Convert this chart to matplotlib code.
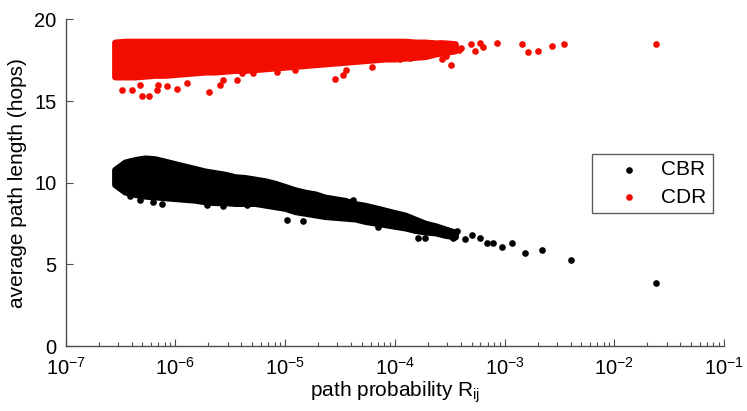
import matplotlib
matplotlib.use("Agg")
import matplotlib.pyplot as plt
from matplotlib import font_manager
import numpy as np

# ---------------- data ----------------
# column positions (path probability) for the dense parts of both clouds
core_x = [2.81e-7, 3.47e-7, 4.28e-7, 5.28e-7, 6.51e-7, 8.04e-7, 9.91e-7, 1.22e-6,
          1.51e-6, 1.86e-6, 2.30e-6, 2.83e-6, 3.49e-6, 4.31e-6, 5.32e-6, 6.56e-6,
          8.09e-6, 9.98e-6, 1.23e-5, 1.52e-5, 1.87e-5, 2.31e-5, 2.85e-5, 3.52e-5,
          4.34e-5, 5.35e-5, 6.61e-5, 8.15e-5, 1.00e-4, 1.24e-4, 1.53e-4, 1.89e-4,
          2.33e-4, 2.87e-4, 3.54e-4]

# CBR dense cloud: upper / lower edge of dot centres per column
cbr_core_hi = [10.8, 11.25, 11.4, 11.5, 11.45, 11.3, 11.15, 11.0, 10.85, 10.7, 10.6, 10.5,
               10.35, 10.3, 10.2, 10.1, 9.95, 9.75, 9.55, 9.4, 9.3, 9.1, 9.0, 8.9,
               8.7, 8.6, 8.45, 8.3, 8.15, 8.0, 7.75, 7.5, 7.35, 7.15, 6.95]
cbr_core_lo = [9.9, 9.45, 9.3, 9.2, 9.15, 9.1, 9.05, 9.0, 8.95, 8.85, 8.8, 8.8,
               8.75, 8.75, 8.75, 8.65, 8.55, 8.45, 8.25, 8.15, 8.05, 7.95, 7.9, 7.85,
               7.8, 7.65, 7.55, 7.45, 7.35, 7.25, 7.1, 7.0, 6.95, 6.8, 6.7]

# CDR dense cloud
cdr_core_hi = [18.6, 18.65, 18.65, 18.65, 18.65, 18.65, 18.65, 18.65, 18.65, 18.65, 18.65, 18.65,
               18.65, 18.65, 18.65, 18.65, 18.65, 18.65, 18.65, 18.65, 18.65, 18.65, 18.65, 18.65,
               18.65, 18.65, 18.65, 18.65, 18.65, 18.65, 18.6, 18.6, 18.55, 18.55, 18.5]
cdr_core_lo = [16.5, 16.5, 16.5, 16.55, 16.6, 16.6, 16.65, 16.7, 16.75, 16.8, 16.8, 16.85,
               16.9, 16.9, 16.95, 17.0, 17.05, 17.1, 17.15, 17.2, 17.25, 17.3, 17.35, 17.4,
               17.45, 17.5, 17.55, 17.6, 17.6, 17.65, 17.7, 17.75, 17.9, 18.0, 18.1]

# individual, separately visible CBR points
cbr_x = [3.86e-7, 4.76e-7, 6.29e-7, 7.50e-7, 1.93e-6, 2.72e-6, 4.47e-6, 1.03e-5,
         1.45e-5, 4.19e-5, 7.08e-5, 1.64e-4, 1.88e-4, 3.41e-4, 3.66e-4, 4.37e-4,
         5.02e-4, 5.98e-4, 6.86e-4, 7.91e-4, 9.44e-4, 1.16e-3, 1.52e-3, 2.21e-3,
         4.04e-3, 2.40e-2]
cbr_y = [9.16, 8.96, 8.82, 8.69, 8.65, 8.55, 8.65, 7.73,
         7.63, 8.96, 7.26, 6.64, 6.64, 6.6, 7.06, 6.56,
         6.77, 6.64, 6.3, 6.3, 6.09, 6.32, 5.69, 5.89,
         5.28, 3.88]

# individual, separately visible CDR points
cdr_x = [3.24e-7, 4.00e-7, 4.93e-7, 5.78e-7, 4.76e-7, 6.76e-7, 6.98e-7, 8.33e-7,
         1.03e-6, 1.27e-6, 2.04e-6, 2.55e-6, 2.73e-6, 3.62e-6, 4.02e-6, 5.13e-6,
         8.38e-6, 1.23e-5, 2.85e-5, 3.40e-5, 3.59e-5, 6.15e-5, 1.12e-4, 1.38e-4,
         1.65e-4, 2.17e-4, 2.40e-4, 2.58e-4, 2.68e-4, 2.91e-4, 3.25e-4, 3.87e-4,
         4.01e-4, 4.92e-4, 5.38e-4, 5.98e-4, 6.41e-4, 8.45e-4, 1.44e-3, 1.63e-3,
         2.03e-3, 2.71e-3, 3.47e-3, 2.40e-2]
cdr_y = [15.7, 15.7, 15.34, 15.3, 16.0, 15.66, 16.0, 15.9,
         15.75, 16.1, 15.54, 16.0, 16.3, 16.3, 16.7, 16.7,
         16.8, 16.9, 16.36, 16.6, 16.9, 17.1, 17.55, 17.65,
         17.85, 18.57, 18.36, 18.57, 17.59, 17.79, 17.22, 18.16,
         18.26, 18.47, 18.06, 18.57, 18.3, 18.55, 18.5, 18.0,
         18.06, 18.36, 18.5, 18.47]

series_labels = ["CBR", "CDR"]
x_ticks = [1e-7, 1e-6, 1e-5, 1e-4, 1e-3, 1e-2, 1e-1]
y_ticks = [0, 5, 10, 15, 20]

# ---------------- style ----------------
names = {f.name for f in font_manager.fontManager.ttflist}
if "Liberation Sans Narrow" in names:
    fam = "Liberation Sans Narrow"
    fs_tick, fs_lab = 16, 16.5
else:
    fam = "Liberation Sans"
    fs_tick, fs_lab = 14.5, 15

plt.rcParams["font.family"] = [fam, "DejaVu Sans"]
plt.rcParams["mathtext.fontset"] = "custom"
plt.rcParams["mathtext.rm"] = fam
plt.rcParams["mathtext.it"] = fam
plt.rcParams["mathtext.default"] = "regular"

BLACK = "#000000"
RED = "#f20d00"
AXC = "#4d4d4d"
DOT_PT = 4.8  # dot diameter in points

fig = plt.figure(figsize=(7.47, 4.11), dpi=100)
ax = fig.add_axes([65.7 / 747, (411 - 346) / 411, 658.3 / 747, 326.5 / 411])

# dense cores
for lo, hi, c in [(cbr_core_lo, cbr_core_hi, BLACK), (cdr_core_lo, cdr_core_hi, RED)]:
    pc = ax.fill_between(core_x, lo, hi, facecolor=c, edgecolor=c, linewidth=DOT_PT)
    pc.set_joinstyle("round")
    pc.set_capstyle("round")

ax.scatter(cbr_x, cbr_y, s=DOT_PT ** 2, c=BLACK, linewidths=0, label=series_labels[0], zorder=3)
ax.scatter(cdr_x, cdr_y, s=DOT_PT ** 2, c=RED, linewidths=0, label=series_labels[1], zorder=3)

ax.set_xscale("log")
ax.set_xlim(1e-7, 1e-1)
ax.set_ylim(0, 20)
ax.set_xticks(x_ticks)
ax.set_yticks(y_ticks)

for s in ["top", "right"]:
    ax.spines[s].set_visible(False)
for s in ["left", "bottom"]:
    ax.spines[s].set_color(AXC)
    ax.spines[s].set_linewidth(1.0)

ax.tick_params(which="major", direction="in", length=4.7, width=0.8, color=AXC,
               labelsize=fs_tick, labelcolor="black")
ax.tick_params(axis="x", which="major", pad=8)
ax.tick_params(axis="y", which="major", pad=6.5)
ax.tick_params(which="minor", direction="in", length=2.6, width=0.8, color=AXC)
ax.tick_params(axis="y", which="minor", left=False)

ax.set_xlabel(r"path probability R$_{ij}$", fontsize=fs_lab, labelpad=0)
ax.set_ylabel("average path length (hops)", fontsize=fs_lab, labelpad=5)

leg = ax.legend(loc="upper right", bbox_to_anchor=(0.983, 0.588), borderaxespad=0,
                fontsize=fs_lab, frameon=True, fancybox=False, edgecolor="#333333",
                handletextpad=0.05, handlelength=3.0, borderpad=0.3, labelspacing=0.4,
                scatterpoints=1, markerfirst=True)
leg.get_frame().set_linewidth(1.0)

fig.savefig("out.png", dpi=100)
